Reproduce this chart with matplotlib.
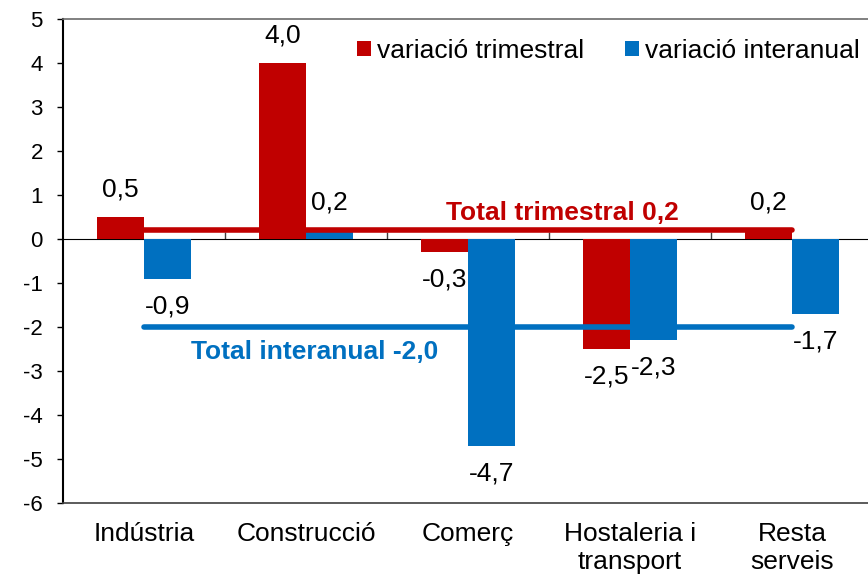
import numpy as np
import matplotlib
matplotlib.use("Agg")
import matplotlib.pyplot as plt

plt.rcParams['font.family'] = ['Liberation Sans', 'DejaVu Sans']

# data
categories = ["Indústria", "Construcció", "Comerç", "Hostaleria i\ntransport", "Resta\nserveis"]
trimestral = [0.5, 4.0, -0.3, -2.5, 0.2]
interanual = [-0.9, 0.2, -4.7, -2.3, -1.7]
total_trimestral = 0.2
total_interanual = -2.0
yticks = [5, 4, 3, 2, 1, 0, -1, -2, -3, -4, -5, -6]

red = "#C00000"
blue = "#0070C0"


def fmt(v):
    return f"{v:.1f}".replace(".", ",")


fig = plt.figure(figsize=(8.68, 5.82), dpi=100)
ax = fig.add_axes([63 / 868, 79 / 582, 810 / 868, 484 / 582])

x = np.arange(len(categories))
w = 0.29
b1 = ax.bar(x - w / 2, trimestral, w, color=red, label="variació trimestral", zorder=2)
b2 = ax.bar(x + w / 2, interanual, w, color=blue, label="variació interanual", zorder=2)

# total lines
ax.plot([x[0], x[-1]], [total_trimestral] * 2, color=red, lw=4, solid_capstyle='round', zorder=3)
ax.plot([x[0], x[-1]], [total_interanual] * 2, color=blue, lw=4, solid_capstyle='round', zorder=3)
ax.text(2.58, 0.59, f"Total trimestral {fmt(total_trimestral)}", color=red, fontsize=19,
        fontweight='bold', ha='center', va='center', zorder=4)
ax.text(1.056, -2.57, f"Total interanual {fmt(total_interanual)}", color=blue, fontsize=19,
        fontweight='bold', ha='center', va='center', zorder=4)

# data labels
for bars, vals in [(b1, trimestral), (b2, interanual)]:
    for rect, v in zip(bars, vals):
        off = 20 if v >= 0 else -20
        ax.annotate(fmt(v), (rect.get_x() + rect.get_width() / 2, v), xytext=(0, off),
                    textcoords='offset points', ha='center', va='center', fontsize=19, zorder=5)

ax.set_xlim(-0.5, 4.5)
ax.set_ylim(-6, 5)
ax.set_yticks(yticks)
ax.set_yticklabels([str(t) for t in yticks])
ax.tick_params(axis='y', labelsize=16, length=4.5, width=1, pad=10, direction='out')
ax.set_xticks(x)
ax.set_xticklabels(categories, fontsize=19)
ax.tick_params(axis='x', length=0, pad=14)

ax.spines['right'].set_visible(False)
ax.spines['top'].set_color('#6b6b6b')
ax.spines['top'].set_linewidth(1.2)
ax.spines['bottom'].set_color('#404040')
ax.spines['bottom'].set_linewidth(1.2)
ax.spines['left'].set_color('black')
ax.spines['left'].set_linewidth(1.5)

# zero line with category separators
sec = ax.secondary_xaxis(6 / 11)
sec.set_xticks(x[:-1] + 0.5)
sec.set_xticklabels([])
sec.tick_params(axis='x', length=5, width=1, direction='out', color='#404040')
sec.spines['bottom'].set_color('black')
sec.spines['bottom'].set_linewidth(1.5)
sec.spines['bottom'].set_zorder(3)

fig.legend(handles=[b1, b2], loc='center', bbox_to_anchor=(608 / 868, 1 - 51 / 582), ncol=2,
           frameon=False, fontsize=19, handlelength=0.53, handleheight=0.53,
           handletextpad=0.23, columnspacing=1.55, borderpad=0, borderaxespad=0)

fig.savefig("out.png", dpi=100)
